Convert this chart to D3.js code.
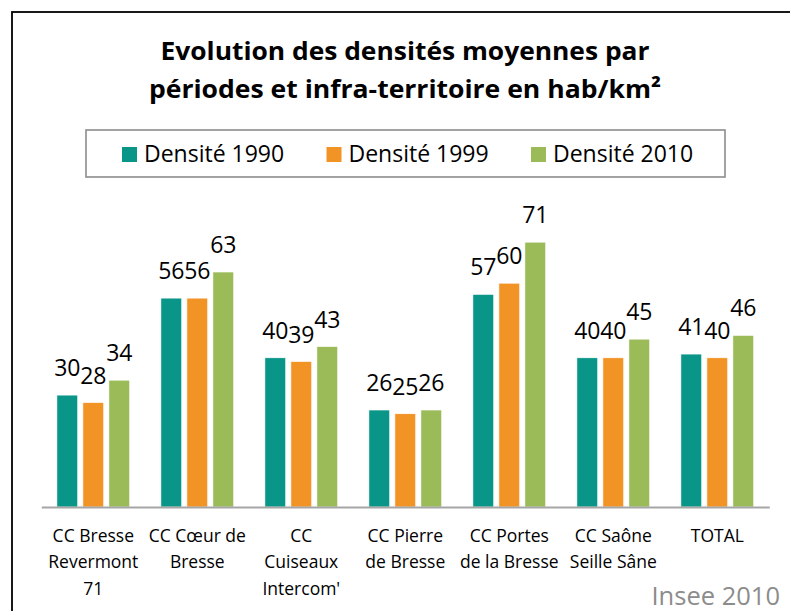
<!DOCTYPE html>
<html>
<head>
<meta charset="utf-8">
<script src="https://cdn.jsdelivr.net/npm/d3@7"></script>
<style>
  body { margin: 0; background: #fff; }
  text { font-family: 'Open Sans', sans-serif; fill: #000; }
</style>
</head>
<body>
<div id="chart"></div>
<script>
// DATA ------------------------
const categories = [
  'CC Bresse Revermont 71',
  'CC Cœur de Bresse',
  "CC Cuiseaux Intercom'",
  'CC Pierre de Bresse',
  'CC Portes de la Bresse',
  'CC Saône Seille Sâne',
  'TOTAL',
];
// wrapped tick labels, as in the picture
const tickLabels = [
  ['CC Bresse', 'Revermont', '71'],
  ['CC Cœur de', 'Bresse'],
  ['CC', 'Cuiseaux', "Intercom'"],
  ['CC Pierre', 'de Bresse'],
  ['CC Portes', 'de la Bresse'],
  ['CC Saône', 'Seille Sâne'],
  ['TOTAL'],
];
const seriesNames = ['Densité 1990', 'Densité 1999', 'Densité 2010'];
const density1990 = [30, 56, 40, 26, 57, 40, 41];
const density1999 = [28, 56, 39, 25, 60, 40, 40];
const density2010 = [34, 63, 43, 26, 71, 45, 46];
const colors = ['#0a9589', '#f29325', '#9bbb59'];

const seriesValues = [density1990, density1999, density2010];
const rows = categories.map((c, i) => ({
  category: c,
  values: seriesNames.map((s, j) => ({ series: s, value: seriesValues[j][i] })),
}));

const w = 790;
const h = 611;
const baseY = 507;

const svg = d3
  .select('#chart')
  .append('svg')
  .attr('width', w)
  .attr('height', h);

svg.append('rect').attr('width', w).attr('height', h).attr('fill', '#fff');

// frame, cut by the right and bottom edges
svg
  .append('rect')
  .attr('x', 12)
  .attr('y', 12)
  .attr('width', 820)
  .attr('height', 640)
  .attr('fill', 'none')
  .attr('stroke', '#000')
  .attr('stroke-width', 1.8);

// TITLE -----------------------
const titleLines = [
  { text: 'Evolution des densités moyennes par', y: 60, len: 489 },
  { text: 'périodes et infra-territoire en hab/km²', y: 98, len: 512 },
];
svg
  .selectAll('.title')
  .data(titleLines)
  .enter()
  .append('text')
  .attr('class', 'title')
  .attr('x', 405)
  .attr('y', (d) => d.y)
  .attr('text-anchor', 'middle')
  .attr('textLength', (d) => d.len)
  .attr('lengthAdjust', 'spacingAndGlyphs')
  .style('font-size', '25.5px')
  .style('font-weight', 'bold')
  .text((d) => d.text);

// LEGEND ----------------------
svg
  .append('rect')
  .attr('x', 86)
  .attr('y', 130)
  .attr('width', 639)
  .attr('height', 47)
  .attr('fill', '#fff')
  .attr('stroke', '#8c8c8c')
  .attr('stroke-width', 1.6);

const legendX = d3.scalePoint().domain(seriesNames).range([122, 531]);
const legend = svg
  .selectAll('.legend')
  .data(seriesNames)
  .enter()
  .append('g')
  .attr('class', 'legend')
  .attr('transform', (d) => `translate(${legendX(d)}, 147)`);
legend
  .append('rect')
  .attr('width', 15)
  .attr('height', 15)
  .attr('fill', (d, i) => colors[i]);
legend
  .append('text')
  .attr('x', 22)
  .attr('y', 15)
  .style('font-size', '23px')
  .text((d) => d);

// SCALES ----------------------
const x0 = d3
  .scaleBand()
  .domain(categories)
  .range([41.3, 769.3])
  .paddingInner(0.3)
  .paddingOuter(0.15);
const x1 = d3
  .scaleBand()
  .domain(seriesNames)
  .range([0, x0.bandwidth()])
  .paddingInner(0.2);
const yScale = d3
  .scaleLinear()
  .domain([0, 80])
  .range([baseY, baseY - 80 * 3.73]);

// BARS ------------------------
const groups = svg
  .selectAll('.group')
  .data(rows)
  .enter()
  .append('g')
  .attr('class', 'group')
  .attr('transform', (d) => `translate(${x0(d.category)}, 0)`);

groups
  .selectAll('rect')
  .data((d) => d.values)
  .enter()
  .append('rect')
  .attr('x', (d) => x1(d.series))
  .attr('y', (d) => yScale(d.value))
  .attr('width', x1.bandwidth())
  .attr('height', (d) => baseY - yScale(d.value))
  .attr('fill', (d, i) => colors[i])
  .attr('stroke', '#fff')
  .attr('stroke-width', 0.6);

groups
  .selectAll('.value')
  .data((d) => d.values)
  .enter()
  .append('text')
  .attr('class', 'value')
  .attr('x', (d) => x1(d.series) + x1.bandwidth() / 2)
  .attr('y', (d) => yScale(d.value) - 19)
  .attr('text-anchor', 'middle')
  .style('font-size', '23px')
  .text((d) => d.value);

// AXIS ------------------------
const xAxis = d3.axisBottom(x0).tickSize(0).tickSizeOuter(0).tickFormat('');
const gXAxis = svg
  .append('g')
  .attr('transform', `translate(0, ${baseY})`)
  .call(xAxis);
gXAxis.select('.domain').attr('stroke', '#a6a6a6').attr('stroke-width', 2);

gXAxis
  .selectAll('.tick')
  .append('text')
  .attr('text-anchor', 'middle')
  .style('font-size', '17.5px')
  .style('fill', '#000')
  .selectAll('tspan')
  .data((d) => tickLabels[categories.indexOf(d)])
  .enter()
  .append('tspan')
  .attr('x', 0)
  .attr('y', (d, i) => 35 + i * 26.3)
  .text((d) => d);

// SOURCE ----------------------
svg
  .append('text')
  .attr('x', 780)
  .attr('y', 605)
  .attr('text-anchor', 'end')
  .style('font-size', '25.5px')
  .style('fill', '#8c8c8c')
  .text('Insee 2010');
</script>
</body>
</html>
